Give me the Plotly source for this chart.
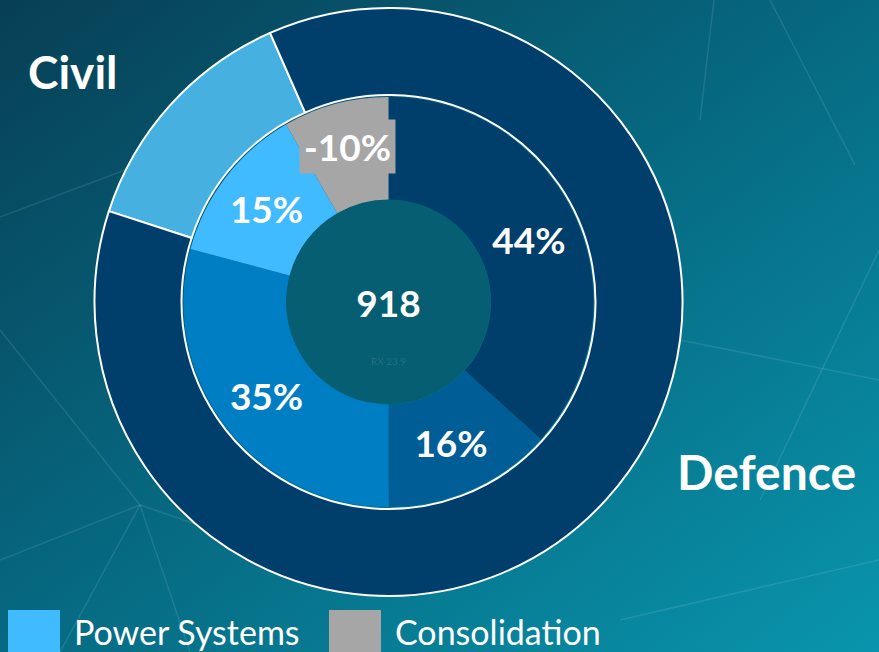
import base64
import math
import plotly.graph_objects as go

# ---------------- data ----------------
outer_labels = ["Civil", "Defence"]
outer_values = [13.4, 86.6]
outer_colors = ["#46B0E0", "#003E6C"]

inner_labels = ["Defence A", "Defence B", "Civil A", "Power Systems", "Consolidation"]
inner_pct = [44, 16, 35, 15, -10]
inner_colors = ["#003E6C", "#005D96", "#007EC4", "#41BBFF", "#A6A6A6"]

center_value = 918
legend_items = ["Power Systems", "Consolidation"]
legend_colors = ["#41BBFF", "#A6A6A6"]

W, H = 879, 652
FONT = "Lato"
LBL = 37

# background gradient as svg image
svg = f'''<svg xmlns="http://www.w3.org/2000/svg" width="{W}" height="{H}">
<defs><linearGradient id="g" x1="0" y1="0" x2="1" y2="1">
<stop offset="0" stop-color="#073F55"/>
<stop offset="0.5" stop-color="#066A82"/>
<stop offset="1" stop-color="#0995AD"/>
</linearGradient></defs>
<rect width="{W}" height="{H}" fill="url(#g)"/>
</svg>'''
bg_src = "data:image/svg+xml;base64," + base64.b64encode(svg.encode()).decode()

def dom(cx, cy, r):
    return dict(x=[(cx - r) / W, (cx + r) / W], y=[(H - cy - r) / H, (H - cy + r) / H])

CX, CY = 388.5, 302

# inner texts; the negative (boxed) label is drawn as an annotation with background
inner_text = [f"{v}%" if v >= 0 else "" for v in inner_pct]

fig = go.Figure()
fig.add_trace(go.Pie(
    labels=outer_labels, values=outer_values, sort=False, direction="clockwise",
    rotation=-72, hole=0.704, domain=dom(CX, CY, 294),
    marker=dict(colors=outer_colors, line=dict(color="white", width=2)),
    textinfo="none", hoverinfo="label+percent", showlegend=False,
))
fig.add_trace(go.Pie(
    labels=inner_labels, values=[abs(v) for v in inner_pct], sort=False,
    direction="clockwise", rotation=0, hole=0.5, domain=dom(CX, CY, 205),
    marker=dict(colors=inner_colors, line=dict(width=0)),
    text=inner_text, textinfo="text", textposition="inside",
    insidetextorientation="horizontal",
    textfont=dict(family=FONT, size=LBL, color="white", weight="bold"),
    showlegend=False,
))
fig.add_trace(go.Pie(
    labels=["Total"], values=[1], domain=dom(CX, CY, 102),
    marker=dict(colors=["#065E72"], line=dict(width=0)),
    text=[str(center_value)], textinfo="text", textposition="inside",
    textfont=dict(family=FONT, size=36, color="white", weight="bold"),
    showlegend=False,
))

shapes = []
annotations = [
    dict(text="<b>Civil</b>", x=73 / W, y=1 - 71 / H, xref="paper", yref="paper",
         xanchor="center", yanchor="middle",
         showarrow=False, font=dict(family=FONT, size=46, color="white")),
    dict(text="<b>Defence</b>", x=766 / W, y=1 - 471 / H, xref="paper", yref="paper",
         xanchor="center", yanchor="middle",
         showarrow=False, font=dict(family=FONT, size=48, color="white")),
    dict(text="RX 23.9", x=CX / W, y=1 - 361 / H, xref="paper", yref="paper",
         xanchor="center", yanchor="middle",
         showarrow=False, font=dict(family=FONT, size=10, color="rgba(255,255,255,0.12)")),
]

# boxed label for negative slice, positioned at the slice mid-angle
tot = sum(abs(v) for v in inner_pct)
cum = 0
for v, c in zip(inner_pct, inner_colors):
    mid = (cum + abs(v) / 2) / tot * 2 * math.pi
    cum += abs(v)
    if v < 0:
        r = 158
        px = CX + r * math.sin(mid)
        py = CY - r * math.cos(mid) - 3
        annotations.append(dict(text=f"<b>{v}%</b>", x=px / W, y=1 - py / H,
                                xref="paper", yref="paper", xanchor="center",
                                yanchor="middle", showarrow=False, bgcolor=c,
                                borderpad=4,
                                font=dict(family=FONT, size=LBL, color="white")))

# manual legend
lx = [8, 329]
for i, (name, col) in enumerate(zip(legend_items, legend_colors)):
    shapes.append(dict(type="rect", xref="paper", yref="paper",
                       x0=lx[i] / W, x1=(lx[i] + 52) / W, y0=0, y1=1 - 610 / H,
                       fillcolor=col, line=dict(width=0)))
    annotations.append(dict(text=name, x=(lx[i] + 64) / W, y=1 - 631 / H, xref="paper",
                            yref="paper", xanchor="left", yanchor="middle", showarrow=False,
                            font=dict(family=FONT, size=34, color="white")))

# faint decorative network lines
deco = [((0, 330), (140, 505)), ((140, 505), (0, 560)), ((140, 505), (300, 560)),
        ((140, 505), (190, 652)), ((140, 505), (60, 652)), ((0, 217), (125, 170)),
        ((700, 120), (714, 0)), ((855, 165), (770, 0)), ((620, 620), (879, 560)),
        ((680, 340), (879, 380)), ((879, 250), (760, 500))]
for (a, b) in deco:
    shapes.append(dict(type="line", xref="paper", yref="paper", layer="below",
                       x0=a[0] / W, y0=1 - a[1] / H, x1=b[0] / W, y1=1 - b[1] / H,
                       line=dict(color="rgba(255,255,255,0.10)", width=1.5)))

fig.update_layout(
    width=W, height=H, margin=dict(l=0, r=0, t=0, b=0),
    paper_bgcolor="#0A6178", plot_bgcolor="rgba(0,0,0,0)",
    uniformtext=dict(minsize=LBL, mode="show"),
    images=[dict(source=bg_src, xref="paper", yref="paper", x=0, y=1, sizex=1, sizey=1,
                 xanchor="left", yanchor="top", sizing="stretch", layer="below")],
    shapes=shapes, annotations=annotations,
)
fig.write_html("out.html", config={"displayModeBar": False},
               post_script="document.body.style.margin='0';document.body.style.padding='0';")
